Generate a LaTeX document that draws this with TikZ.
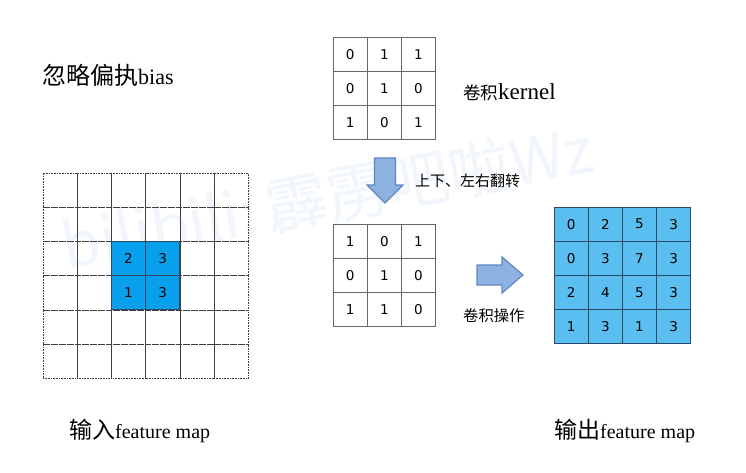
\documentclass[tikz,border=0pt]{standalone}
\usepackage{fontspec}
\setmainfont{Liberation Serif}
\newfontfamily\cjk{Noto Sans CJK SC}
\newfontfamily\digitfont{DejaVu Sans}
\definecolor{inblue}{HTML}{08A0EC}
\definecolor{outblue}{HTML}{5ABEF0}
\definecolor{outline}{HTML}{2A4A6A}
\definecolor{arrfill}{HTML}{8DB1E0}
\definecolor{arrdraw}{HTML}{5F86BE}
\definecolor{wmark}{HTML}{F1F6FC}
\begin{document}
\begin{tikzpicture}[x=1pt,y=-1pt,
  cell/.style={minimum size=34.2pt,inner sep=0pt,outer sep=0pt,font=\digitfont\fontsize{13.5}{15}\selectfont},
  kcell/.style={cell,draw=black!60,line width=0.8pt},
  incell/.style={cell,draw=black!75,densely dotted,line width=0.6pt},
  bluecell/.style={cell,draw=outline,fill=inblue,line width=0.7pt},
  outcell/.style={cell,draw=outline,fill=outblue,line width=0.7pt},
  blockarrow/.style={draw=arrdraw,fill=arrfill,line width=1.2pt,line join=miter},
  lbl/.style={anchor=west,inner sep=0pt}
]
\useasboundingbox (0,0) rectangle (746,473);
\fill[white] (0,0) rectangle (746,473);

% watermark
\node[rotate=10.5,anchor=west,text=wmark,inner sep=0pt,font=\cjk\fontsize{62}{66}\selectfont] (wm) at (62,246) {bilibili:\,霹雳吧啦Wz};

% input feature map 6x6
\foreach \r in {0,...,5}{
  \foreach \c in {0,...,5}{
    \node[incell] (in-\r-\c) at ({43+17.1+34.2*\c},{173+17.1+34.2*\r}) {};
  }
}
\foreach \v [count=\i from 0] in {2,3,1,3}{
  \pgfmathtruncatemacro{\r}{2+int(\i/2)}
  \pgfmathtruncatemacro{\c}{2+mod(\i,2)}
  \node[bluecell] (ib-\r-\c) at ({43+17.1+34.2*\c},{173+17.1+34.2*\r}) {\v};
}

% kernel
\foreach \v [count=\i from 0] in {0,1,1,0,1,0,1,0,1}{
  \pgfmathtruncatemacro{\r}{int(\i/3)}
  \pgfmathtruncatemacro{\c}{mod(\i,3)}
  \node[kcell] (k-\r-\c) at ({333+17.1+34.2*\c},{37+17.1+34.2*\r}) {\v};
}

% flipped kernel
\foreach \v [count=\i from 0] in {1,0,1,0,1,0,1,1,0}{
  \pgfmathtruncatemacro{\r}{int(\i/3)}
  \pgfmathtruncatemacro{\c}{mod(\i,3)}
  \node[kcell] (f-\r-\c) at ({333+17.1+34.2*\c},{224+17.1+34.2*\r}) {\v};
}

% output
\foreach \v [count=\i from 0] in {0,2,5,3,0,3,7,3,2,4,5,3,1,3,1,3}{
  \pgfmathtruncatemacro{\r}{int(\i/4)}
  \pgfmathtruncatemacro{\c}{mod(\i,4)}
  \node[outcell] (o-\r-\c) at ({554+17.1+34.2*\c},{207+17.1+34.2*\r}) {\v};
}

% block arrows
\coordinate (downtip) at (385,203);
\draw[blockarrow] (374.5,158) -- (395.5,158) -- (395.5,185) -- (403,185)
   -- (downtip) -- (367,185) -- (374.5,185) -- cycle;
\coordinate (righttip) at (523,275);
\draw[blockarrow] (477,265) -- (502,265) -- (502,257) -- (righttip)
   -- (502,293) -- (502,285) -- (477,285) -- cycle;

% labels
\node[lbl] (bias) at (42,75) {{\cjk\fontsize{24}{28}\selectfont 忽略偏执}{\fontsize{22}{26}\selectfont bias}};
\node[lbl] (kern) at (463,92) {{\cjk\fontsize{17.5}{21}\selectfont 卷积}{\fontsize{23}{26}\selectfont kernel}};
\node[lbl,font=\cjk\fontsize{15}{18}\selectfont] (flip) at (415,181) {上下、左右翻转};
\node[lbl,font=\cjk\fontsize{15.3}{18}\selectfont] (conv) at (463,316) {卷积操作};
\node[lbl] (inlbl) at (69,431) {{\cjk\fontsize{23}{27}\selectfont 输入}{\fontsize{20}{24}\selectfont feature map}};
\node[lbl] (outlbl) at (554,431) {{\cjk\fontsize{23}{27}\selectfont 输出}{\fontsize{20}{24}\selectfont feature map}};
\end{tikzpicture}
\end{document}
